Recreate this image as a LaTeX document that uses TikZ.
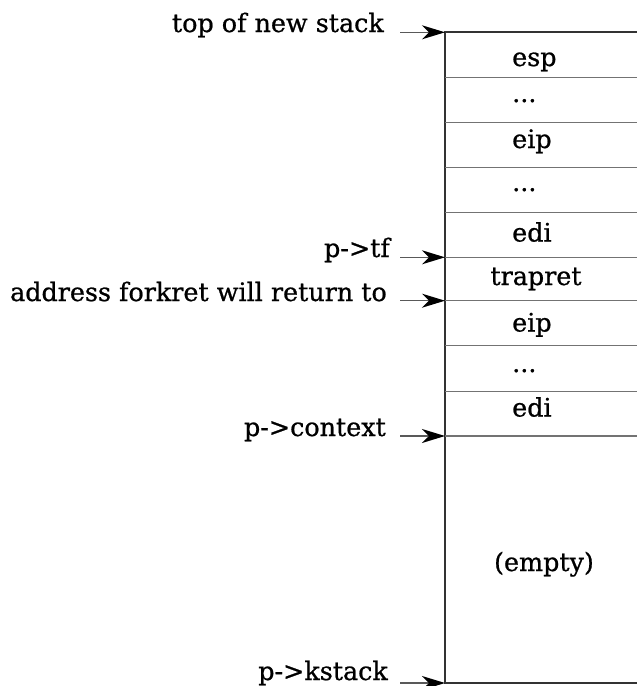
\documentclass[tikz,border=0pt]{standalone}
\usepackage{fontspec}
\setmainfont{DejaVu Serif}[FakeBold=0.8]
\usetikzlibrary{arrows.meta}
\begin{document}
\begin{tikzpicture}[x=1pt,y=-1pt,
  lbl/.style={anchor=base east,inner sep=0pt,font=\fontsize{25.4}{28}\selectfont},
  cell/.style={anchor=base west,inner sep=0pt,font=\fontsize{25.4}{28}\selectfont},
  cellc/.style={anchor=base,inner sep=0pt,font=\fontsize{25.4}{28}\selectfont},
  ptr/.style={draw=black!65,line width=1.5pt,-{Stealth[length=23pt,width=14pt,inset=7pt,black]}},
  sep/.style={draw=black!55,line width=1.3pt},
  edge/.style={draw=black!80,line width=2pt}]
\useasboundingbox (0,0) rectangle (637,686);
% stack outline
\coordinate (TL) at (445,32.3);
\coordinate (TR) at (640,32.3);
\coordinate (BL) at (445,683);
\coordinate (BR) at (640,683);
\draw[edge] (TR) -- (TL) -- (BL) -- (BR);
% separators
\foreach \y/\n in {77.3/a,122.3/b,167.3/c,212.3/d,257.3/e,300.7/f,345.7/g,391.3/h,436/i}{
  \coordinate (L\n) at (445,\y);
  \coordinate (R\n) at (640,\y);
  \draw[sep] (L\n) -- (R\n);
}
% cell contents
\node[cell] (c1) at (512,66) {esp};
\node[cell] (c2) at (512,102) {...};
\node[cell] (c3) at (512,148) {eip};
\node[cell] (c4) at (512,191) {...};
\node[cell] (c5) at (512,241.5) {edi};
\node[cellc] (c6) at (536,285) {trapret};
\node[cell] (c7) at (512,331.5) {eip};
\node[cell] (c8) at (512,372) {...};
\node[cell] (c9) at (512,416.5) {edi};
\node[cellc] (c10) at (544,571) {(empty)};
% pointer labels
\node[lbl] (l1) at (384,32) {top of new stack};
\node[lbl] (l2) at (390,257) {p->tf};
\node[lbl] (l3) at (387,301) {address forkret will return to};
\node[lbl] (l4) at (386,436) {p->context};
\node[lbl] (l5) at (388,680) {p->kstack};
% arrow starts
\coordinate (s1) at (400,32.3);
\coordinate (s2) at (400,257.3);
\coordinate (s3) at (400,300.7);
\coordinate (s4) at (400,436);
\coordinate (s5) at (400,683);
\draw[ptr] (s1) -- (TL);
\draw[ptr] (s2) -- (Le);
\draw[ptr] (s3) -- (Lf);
\draw[ptr] (s4) -- (Li);
\draw[ptr] (s5) -- (BL);
\end{tikzpicture}
\end{document}
